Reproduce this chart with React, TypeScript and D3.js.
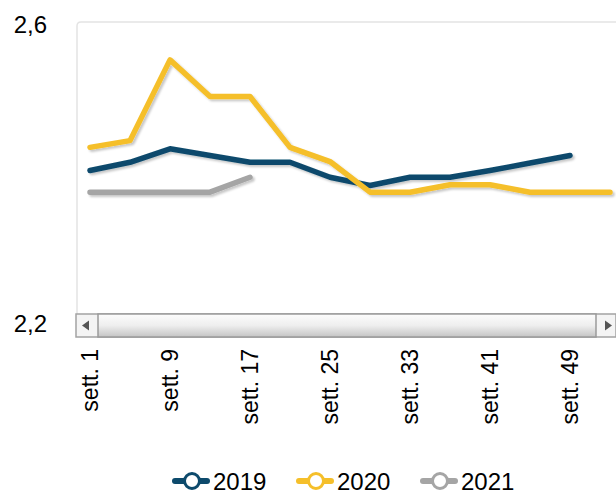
import * as d3 from "d3"

const weeks = [1, 5, 9, 13, 17, 21, 25, 29, 33, 37, 41, 45, 49, 53]
const tickWeeks = [1, 9, 17, 25, 33, 41, 49]
const yTicks = [2.2, 2.6]

const v2019 = [2.404, 2.415, 2.433, 2.424, 2.415, 2.415, 2.395, 2.384, 2.395, 2.395, 2.404, 2.414, 2.424]
const v2020 = [2.435, 2.444, 2.552, 2.503, 2.503, 2.435, 2.416, 2.375, 2.375, 2.385, 2.385, 2.375, 2.375, 2.375]
const v2021 = [2.375, 2.375, 2.375, 2.375, 2.395]

const series = [
  { name: "2019", color: "#0d4a6c", values: v2019 },
  { name: "2020", color: "#f5bf2a", values: v2020 },
  { name: "2021", color: "#a5a5a5", values: v2021 },
]

const W = 616
const H = 493
const font = "Liberation Sans, Arial, sans-serif"

export default function App() {
  const x = d3.scaleLinear().domain([1, 53]).range([90, 610])
  const y = d3.scaleLinear().domain([2.2, 2.6]).range([323, 24])

  const line = d3
    .line<number>()
    .x((_, i) => x(weeks[i]))
    .y((d) => y(d))

  const plot = { left: 77, top: 22, bottom: 314 }
  const sb = { x: 76, y: 314, w: W - 76, h: 23 }

  return (
    <svg
      width={W}
      height={H}
      style={{ position: "absolute", left: 0, top: 0, background: "#fff" }}
      fontFamily={font}
    >
      <defs>
        <filter id="shadow" x="-10%" y="-30%" width="130%" height="180%">
          <feDropShadow dx="2" dy="2" stdDeviation="1.2" floodColor="#000" floodOpacity="0.22" />
        </filter>
        <linearGradient id="thumb" x1="0" y1="0" x2="0" y2="1">
          <stop offset="0" stopColor="#fdfdfd" />
          <stop offset="0.5" stopColor="#eeeeee" />
          <stop offset="1" stopColor="#c4c4c4" />
        </linearGradient>
      </defs>

      {/* plot frame */}
      <path
        d={`M${plot.left},${plot.bottom} V${plot.top + 4} Q${plot.left},${plot.top} ${plot.left + 4},${plot.top} H${W + 2}`}
        fill="none"
        stroke="#e4e4e4"
        strokeWidth={1.5}
      />

      {/* y labels */}
      {yTicks.map((t) => (
        <text key={t} x={47} y={y(t)} textAnchor="end" dominantBaseline="central" fontSize={24}>
          {d3.format(".1f")(t).replace(".", ",")}
        </text>
      ))}

      {/* lines */}
      <g filter="url(#shadow)">
        {series.map((s) => (
          <path
            key={s.name}
            d={line(s.values) ?? ""}
            fill="none"
            stroke={s.color}
            strokeWidth={5.5}
            strokeLinecap="round"
            strokeLinejoin="round"
          />
        ))}
      </g>

      {/* scrollbar */}
      <g>
        <rect x={sb.x} y={sb.y} width={sb.w} height={sb.h} fill="#f4f4f4" stroke="#a3a3a3" strokeWidth={1.5} />
        <rect x={sb.x + 22} y={sb.y} width={sb.w - 42} height={sb.h} fill="url(#thumb)" stroke="#9a9a9a" strokeWidth={1.5} />
        <path d={`M${sb.x + 6},${sb.y + 11.5} l7,-5 v10 z`} fill="#555" />
        <path d={`M${W - 4},${sb.y + 11.5} l-7,-5 v10 z`} fill="#555" />
      </g>

      {/* x labels */}
      {tickWeeks.map((w) => (
        <text
          key={w}
          transform={`translate(${x(w)},349) rotate(-90)`}
          textAnchor="end"
          dominantBaseline="central"
          fontSize={23}
        >
          {`sett. ${w}`}
        </text>
      ))}

      {/* legend */}
      {series.map((s, i) => {
        const lx = 175 + i * 124
        const ly = 481
        return (
          <g key={s.name}>
            <line x1={lx} x2={lx + 32} y1={ly} y2={ly} stroke={s.color} strokeWidth={6} strokeLinecap="round" />
            <circle cx={lx + 17} cy={ly} r={7.5} fill="#fff" stroke={s.color} strokeWidth={3} />
            <text x={lx + 38} y={ly} dominantBaseline="central" fontSize={24}>
              {s.name}
            </text>
          </g>
        )
      })}
    </svg>
  )
}
